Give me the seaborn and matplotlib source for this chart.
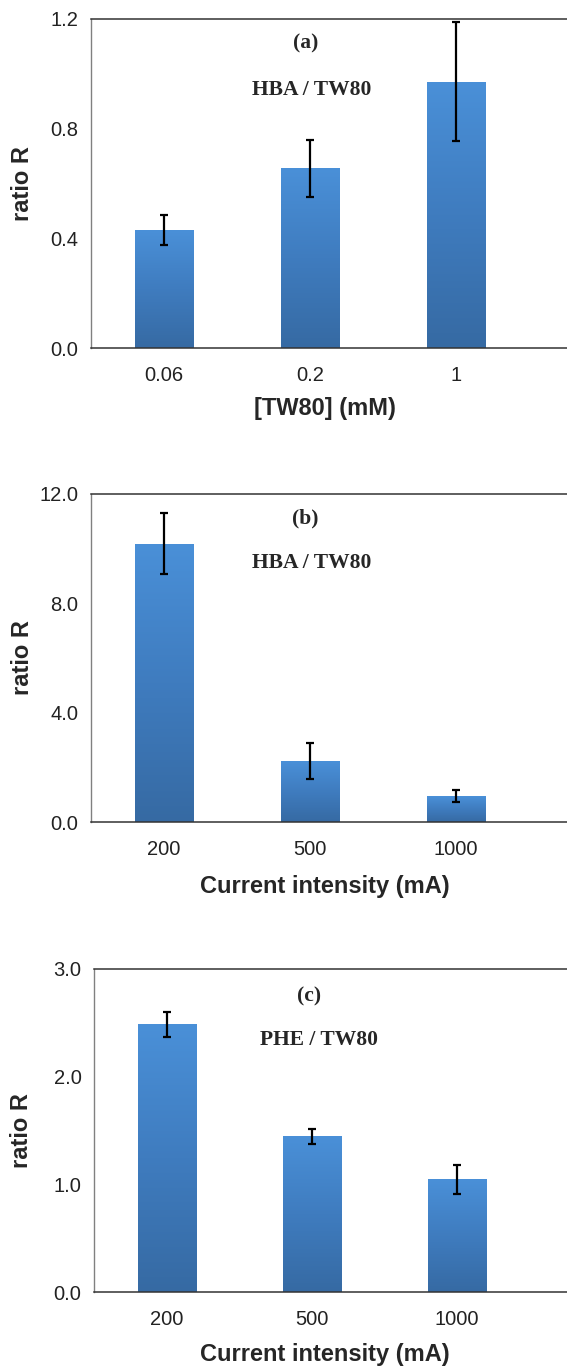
import numpy as np
import pandas as pd
import matplotlib
matplotlib.use('Agg')
import matplotlib.pyplot as plt
import matplotlib.transforms as mtransforms
from matplotlib.colors import LinearSegmentedColormap
import seaborn as sns

# panel (a): ratio vs TW80 concentration
conc_labels = ['0.06', '0.2', '1']
ratio_a = [0.43, 0.655, 0.972]
err_a = [0.055, 0.103, 0.218]

# panel (b): HBA / TW80 vs current
current_labels = ['200', '500', '1000']
ratio_b = [10.18, 2.23, 0.95]
err_b = [1.12, 0.66, 0.22]

# panel (c): PHE / TW80 vs current
ratio_c = [2.486, 1.446, 1.047]
err_c = [0.113, 0.071, 0.133]

sns.set_style('white')
plt.rcParams['font.family'] = ['Liberation Sans', 'DejaVu Sans']

W, H = 567, 1367
fig = plt.figure(figsize=(W / 100, H / 100), dpi=100)

bar_cmap = LinearSegmentedColormap.from_list('bar', ['#366aa3', '#3f7cbf', '#4a90d8'])


def gradient_bars(ax):
    # fill each bar with a vertical gradient (dark at base, light on top)
    xl, yl = ax.get_xlim(), ax.get_ylim()
    grad = np.linspace(0, 1, 256).reshape(-1, 1)
    for p in ax.patches:
        x0, w, h = p.get_x(), p.get_width(), p.get_height()
        im = ax.imshow(grad, extent=[x0, x0 + w, 0, h], origin='lower',
                       aspect='auto', cmap=bar_cmap, zorder=2)
        im.set_clip_path(p)
        p.set_facecolor('none')
        p.set_edgecolor('none')
    ax.set_xlim(xl)
    ax.set_ylim(yl)


def panel(box, labels, values, errs, ymax, yticks, xlabel, xlabel_y, tag, title, tag_pos, title_pos):
    left, top, bottom = box
    ax = fig.add_axes([left / W, 1 - bottom / H, 1 - left / W, (bottom - top) / H])
    df = pd.DataFrame({'cat': labels, 'ratio': values})
    sns.barplot(data=df, x='cat', y='ratio', width=0.4, color='#4585c8',
                errorbar=None, ax=ax, zorder=2)
    ax.errorbar(np.arange(len(values)), values, yerr=errs, fmt='none',
                ecolor='black', elinewidth=1.6, capsize=3, capthick=1.6, zorder=4)
    ax.set_xlim(-0.5, 2.76)
    ax.set_ylim(0, ymax)
    gradient_bars(ax)

    ax.set_yticks(yticks)
    ax.set_yticklabels([f'{t:.1f}' for t in yticks])
    ax.set_xticks([-0.5, 0.5, 1.5], minor=True)
    ax.tick_params(axis='x', which='major', length=0, pad=13, labelsize=14.5, labelcolor='#222222')
    ax.tick_params(axis='x', which='minor', length=6, width=0.8, color='#555555', direction='out')
    ax.tick_params(axis='y', length=6, width=0.8, color='#555555', direction='out',
                   labelsize=14.5, pad=3, labelcolor='#222222')

    ax.spines['right'].set_visible(False)
    ax.spines['left'].set_color('#808080')
    ax.spines['left'].set_linewidth(1.0)
    for s in ['top', 'bottom']:
        ax.spines[s].set_color('#333333')
        ax.spines[s].set_linewidth(1.1)

    ax.set_xlabel(xlabel, fontsize=17, fontweight='bold')
    ax.set_ylabel('ratio R', fontsize=17, fontweight='bold')
    # fixed label positions in figure pixels
    to_ax = fig.transFigure + ax.transAxes.inverted()
    lx, _ = to_ax.transform((22 / W, 0.5))
    ax.yaxis.set_label_coords(lx, 0.5)
    cx, ly = to_ax.transform((325 / W, 1 - xlabel_y / H))
    ax.xaxis.set_label_coords(cx, ly)
    ax.xaxis.label.set_va('center')
    ax.yaxis.label.set_va('center')

    trans = mtransforms.blended_transform_factory(ax.transData, ax.transAxes)
    ax.text(tag_pos[0], tag_pos[1], tag, transform=trans, ha='center', va='center',
            fontsize=15.5, fontweight='bold', family='Liberation Serif')
    ax.text(title_pos[0], title_pos[1], title, transform=trans, ha='center', va='center',
            fontsize=15.5, fontweight='bold', family='Liberation Serif')
    return ax


panel((91, 19, 348), conc_labels, ratio_a, err_a, 1.2, [0.0, 0.4, 0.8, 1.2],
      '[TW80] (mM)', 409, '(a)', 'HBA / TW80', (0.97, 0.927), (1.01, 0.784))
panel((91, 494, 822), current_labels, ratio_b, err_b, 12.0, [0.0, 4.0, 8.0, 12.0],
      'Current intensity (mA)', 887, '(b)', 'HBA / TW80', (0.97, 0.924), (1.01, 0.79))
panel((94, 969, 1292), current_labels, ratio_c, err_c, 3.0, [0.0, 1.0, 2.0, 3.0],
      'Current intensity (mA)', 1355, '(c)', 'PHE / TW80', (0.98, 0.916), (1.05, 0.78))

fig.savefig('out.png', dpi=100)
